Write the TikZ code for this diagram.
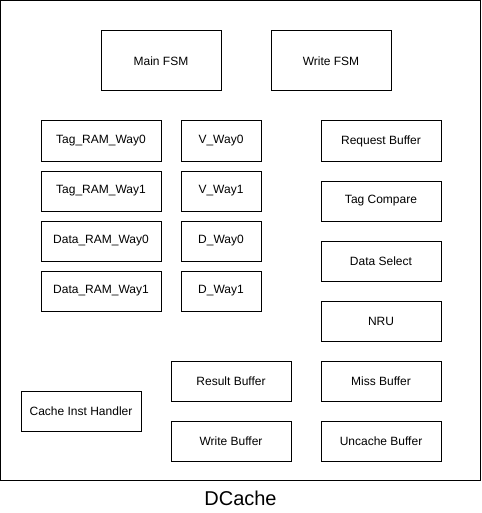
\documentclass[tikz,border=0pt]{standalone}
\usepackage{fontspec}
\setmainfont{Liberation Sans}
\begin{document}
\begin{tikzpicture}[x=1pt,y=-1pt,line width=1pt,
  blk/.style={draw,anchor=north west,inner sep=0pt,font=\fontsize{12}{14}\selectfont},
  wide/.style={blk,minimum width=120pt,minimum height=40pt},
  narrow/.style={blk,minimum width=80pt,minimum height=40pt},
  fsm/.style={blk,minimum width=120pt,minimum height=60pt}]
\path[use as bounding box] (0,0) rectangle (481,513);
\draw (0.5,0.5) rectangle (480.5,480.5);
\node[anchor=center,inner sep=0pt,font=\fontsize{20}{24}\selectfont] (title) at (240.5,498) {DCache};
% state machines
\node[fsm] (mainfsm) at (100.5,30.5) {Main FSM};
\node[fsm] (writefsm) at (270.5,30.5) {Write FSM};
% tag and data rams
\node[wide] (tag0) at (40.5,120.5) {Tag\_RAM\_Way0};
\node[wide] (tag1) at (40.5,170.5) {Tag\_RAM\_Way1};
\node[wide] (data0) at (40.5,220.5) {Data\_RAM\_Way0};
\node[wide] (data1) at (40.5,270.5) {Data\_RAM\_Way1};
% valid and dirty bits
\node[narrow] (v0) at (180.5,120.5) {V\_Way0};
\node[narrow] (v1) at (180.5,170.5) {V\_Way1};
\node[narrow] (d0) at (180.5,220.5) {D\_Way0};
\node[narrow] (d1) at (180.5,270.5) {D\_Way1};
% pipeline parts
\node[wide] (reqbuf) at (320.5,120.5) {Request Buffer};
\node[wide] (tagcmp) at (320.5,180.5) {Tag Compare};
\node[wide] (datasel) at (320.5,240.5) {Data Select};
\node[wide] (nru) at (320.5,300.5) {NRU};
\node[wide] (missbuf) at (320.5,360.5) {Miss Buffer};
\node[wide] (uncbuf) at (320.5,420.5) {Uncache Buffer};
\node[wide] (resbuf) at (170.5,360.5) {Result Buffer};
\node[wide] (wrbuf) at (170.5,420.5) {Write Buffer};
\node[wide] (cacheinst) at (20.5,390.5) {Cache Inst Handler};
\end{tikzpicture}
\end{document}
